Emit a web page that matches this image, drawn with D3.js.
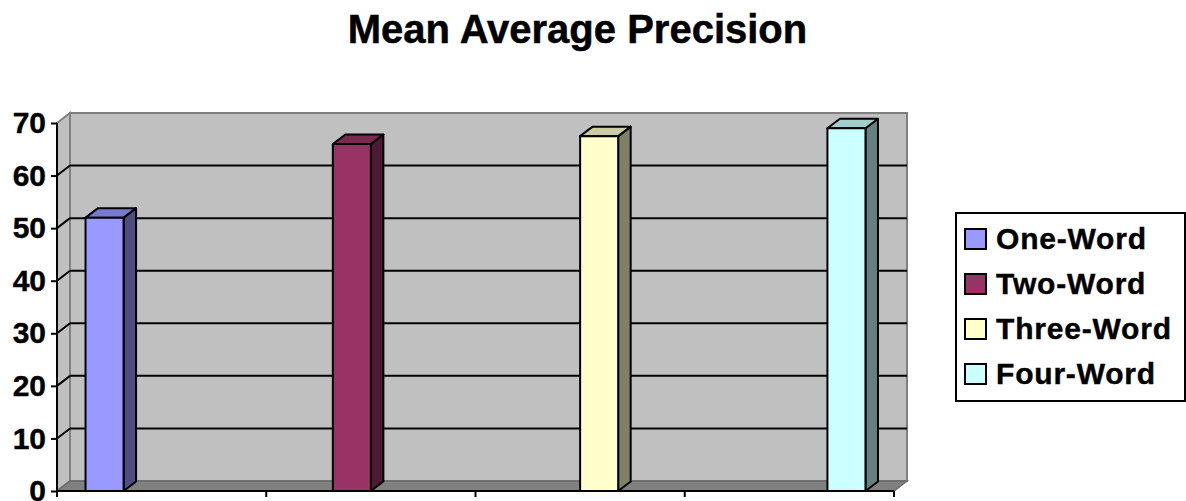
<!DOCTYPE html>
<html>
<head>
<meta charset="utf-8">
<script src="https://cdn.jsdelivr.net/npm/d3@7"></script>
<style>
  html, body { margin: 0; padding: 0; background: #fff; }
  svg { display: block; font-family: "Liberation Sans", Arial, sans-serif; }
</style>
</head>
<body>
<svg id="chart" width="1186" height="501"></svg>
<script>
// Series (each drawn in its own category slot)
const seriesNames = ["One-Word", "Two-Word", "Three-Word", "Four-Word"];
const seriesValues = [52, 66, 67.5, 69];
const frontColors = ["#9999FF", "#993366", "#FFFFCC", "#CCFFFF"];
const yTicks = [0, 10, 20, 30, 40, 50, 60, 70];
const chartTitle = "Mean Average Precision";

(function () {
const svg = d3.select("#chart");

// Plot geometry (front plane) and 3D depth offsets
const pLeft = 57, pRight = 894, pBottom = 491, pTop = 123;
const wallDx = 13, wallDy = -10;   // back wall offset
const barDx = 12.5, barDy = -9.5;  // bar depth

const y = d3.scaleLinear().domain([0, 70]).range([pBottom, pTop]);
const x0 = d3.scaleBand().domain(d3.range(seriesNames.length)).range([pLeft, pRight]).padding(0);
const x1 = d3.scaleBand().domain(seriesNames).range([0, x0.bandwidth()])
  .paddingInner(0).paddingOuter(0.75);

// Title
svg.append("text")
  .attr("x", 577.5).attr("y", 43)
  .attr("text-anchor", "middle")
  .attr("font-size", 40).attr("font-weight", "bold")
  .attr("stroke", "#000").attr("stroke-width", 0.5)
  .text(chartTitle);

// Walls
const g = svg.append("g");
// back wall
g.append("rect")
  .attr("x", pLeft + wallDx).attr("y", pTop + wallDy)
  .attr("width", pRight - pLeft).attr("height", pBottom - pTop)
  .attr("fill", "#C0C0C0").attr("stroke", "#808080").attr("stroke-width", 2);
// left side wall
g.append("polygon")
  .attr("points", [[pLeft, pTop], [pLeft + wallDx, pTop + wallDy], [pLeft + wallDx, pBottom + wallDy], [pLeft, pBottom]].join(" "))
  .attr("fill", "#C0C0C0").attr("stroke", "#808080").attr("stroke-width", 2);
// floor
g.append("polygon")
  .attr("points", [[pLeft, pBottom], [pLeft + wallDx, pBottom + wallDy], [pRight + wallDx, pBottom + wallDy], [pRight, pBottom]].join(" "))
  .attr("fill", "#808080").attr("stroke", "#6a6a6a").attr("stroke-width", 1.5);

// Gridlines on back wall and side wall
const grid = yTicks.filter(v => v > 0 && v < 70);
g.selectAll(".grid").data(grid).join("line")
  .attr("x1", pLeft + wallDx).attr("x2", pRight + wallDx)
  .attr("y1", d => y(d) + wallDy).attr("y2", d => y(d) + wallDy)
  .attr("stroke", "#000").attr("stroke-width", 2);
g.selectAll(".gridSide").data(grid).join("line")
  .attr("x1", pLeft).attr("x2", pLeft + wallDx)
  .attr("y1", d => y(d)).attr("y2", d => y(d) + wallDy)
  .attr("stroke", "#000").attr("stroke-width", 2);

// Bars
const bars = svg.append("g");
seriesNames.forEach((name, i) => {
  const v = seriesValues[i];
  const bx = x0(i) + x1(name);
  const w = x1.bandwidth();
  const yt = y(v), yb = y(0);
  const c = frontColors[i];
  const side = d3.rgb(c); side.r *= 0.5; side.g *= 0.5; side.b *= 0.5;
  const topc = d3.rgb(c); topc.r *= 0.8; topc.g *= 0.8; topc.b *= 0.8;
  const bg = bars.append("g").attr("stroke", "#000").attr("stroke-width", 2).attr("stroke-linejoin", "round");
  bg.append("polygon")
    .attr("points", [[bx + w, yt], [bx + w + barDx, yt + barDy], [bx + w + barDx, yb + barDy], [bx + w, yb]].join(" "))
    .attr("fill", side.formatHex());
  bg.append("polygon")
    .attr("points", [[bx, yt], [bx + barDx, yt + barDy], [bx + w + barDx, yt + barDy], [bx + w, yt]].join(" "))
    .attr("fill", topc.formatHex());
  bg.append("rect")
    .attr("x", bx).attr("y", yt).attr("width", w).attr("height", yb - yt)
    .attr("fill", c);
});

// Y axis
const yAxis = d3.axisLeft(y).tickValues(yTicks).tickSize(6).tickPadding(5);
const ya = svg.append("g").attr("transform", `translate(${pLeft},0)`).call(yAxis);
ya.select(".domain").attr("stroke", "#000").attr("stroke-width", 2).attr("d", `M0,${pTop}V${pBottom}`);
ya.selectAll(".tick line").attr("stroke", "#000").attr("stroke-width", 2);
ya.selectAll(".tick text")
  .attr("font-family", "'Liberation Sans', Arial, sans-serif")
  .attr("font-size", 30).attr("font-weight", "bold").attr("fill", "#000")
  .attr("stroke", "#000").attr("stroke-width", 0.4);

// Category axis (blank labels, boundary ticks)
const xa = svg.append("g");
xa.append("line").attr("x1", pLeft).attr("x2", pRight).attr("y1", pBottom).attr("y2", pBottom)
  .attr("stroke", "#000").attr("stroke-width", 2);
const bounds = d3.range(seriesNames.length + 1).map(i => i === seriesNames.length ? pRight : x0(i));
xa.selectAll(".xt").data(bounds).join("line")
  .attr("x1", d => d).attr("x2", d => d).attr("y1", pBottom).attr("y2", pBottom + 6)
  .attr("stroke", "#000").attr("stroke-width", 2);

// Legend
const lg = svg.append("g");
lg.append("rect").attr("x", 956).attr("y", 213).attr("width", 229).attr("height", 188)
  .attr("fill", "#fff").attr("stroke", "#000").attr("stroke-width", 2);
const rowY = d3.scalePoint().domain(seriesNames).range([239, 374]);
const items = lg.selectAll(".item").data(seriesNames).join("g")
  .attr("transform", d => `translate(0,${rowY(d)})`);
items.append("rect").attr("x", 965).attr("y", -10).attr("width", 21).attr("height", 20)
  .attr("fill", (d, i) => frontColors[i]).attr("stroke", "#000").attr("stroke-width", 2);
items.append("text").attr("x", 996).attr("y", 10)
  .attr("font-size", 30).attr("font-weight", "bold").attr("letter-spacing", 0.8)
  .attr("stroke", "#000").attr("stroke-width", 0.4)
  .text(d => d);
})();
</script>
</body>
</html>
